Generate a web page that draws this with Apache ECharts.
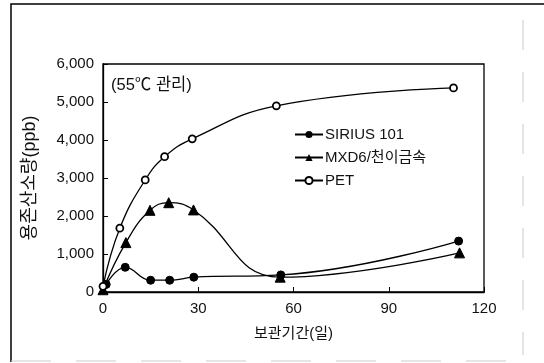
<!DOCTYPE html>
<html><head><meta charset="utf-8">
<script src="https://cdn.jsdelivr.net/npm/echarts@6/dist/echarts.min.js"></script>
<style>html,body{margin:0;padding:0;background:#fff}#c{width:544px;height:363px}</style>
</head><body><div id="c"></div>
<script>
const xTicks = [0, 30, 60, 90, 120];
const yTicks = [0, 1000, 2000, 3000, 4000, 5000, 6000];
const seriesNames = ['SIRIUS 101', 'MXD6/천이금속', 'PET'];
const siriusDays = [1, 7, 15, 21, 28.6, 56, 112];
const siriusVals = [200, 650, 310, 310, 390, 450, 1340];
const mxdDays = [0, 7.2, 14.8, 20.7, 28.5, 55.8, 112.3];
const mxdVals = [60, 1300, 2150, 2350, 2160, 390, 1030];
const petDays = [0, 5.3, 13.3, 19.4, 28.1, 54.6, 110.4];
const petVals = [150, 1680, 2950, 3560, 4030, 4900, 5370];
const titleY = '용존산소량(ppb)';
const titleX = '보관기간(일)';
const note = '(55℃ 관리)';

const font = '"Liberation Sans", "Noto Sans CJK KR", sans-serif';
const pairs = (xs, ys) => xs.map((x, i) => [x, ys[i]]);
const chart = echarts.init(document.getElementById('c'), null, {renderer: 'canvas'});
const common = {type: 'line', smooth: 0.45, lineStyle: {color: '#000', width: 1.3}, itemStyle: {color: '#000', borderColor: '#000'}, z: 3};
chart.setOption({
  animation: false,
  backgroundColor: '#fff',
  grid: {left: 103, top: 64, width: 381, height: 228, show: true, borderColor: '#000', borderWidth: 1.3, backgroundColor: 'transparent'},
  xAxis: {type: 'value', min: xTicks[0], max: xTicks[xTicks.length - 1], interval: 30,
    axisLine: {lineStyle: {color: '#000', width: 1.3}},
    axisTick: {inside: true, length: 5, lineStyle: {color: '#000'}},
    splitLine: {show: false},
    axisLabel: {color: '#111', fontSize: 15, fontFamily: font, margin: 9},
    name: titleX, nameLocation: 'middle', nameGap: 34,
    nameTextStyle: {color: '#111', fontSize: 15, fontFamily: font}},
  yAxis: {type: 'value', min: yTicks[0], max: yTicks[yTicks.length - 1], interval: 1000,
    axisLine: {show: true, lineStyle: {color: '#000', width: 1.3}},
    axisTick: {show: true, inside: true, length: 5, lineStyle: {color: '#000'}},
    splitLine: {show: false},
    axisLabel: {color: '#111', fontSize: 15, fontFamily: font, margin: 9,
      formatter: v => v.toLocaleString('en-US')},
    name: titleY, nameLocation: 'middle', nameGap: 64, nameRotate: 90,
    nameTextStyle: {color: '#111', fontSize: 18, fontFamily: font}},
  legend: {orient: 'vertical', left: 289, top: 122, itemWidth: 28, itemHeight: 9, itemGap: 8,
    textStyle: {color: '#111', fontSize: 15, fontFamily: font, padding: [0, 0, 0, -3]},
    data: seriesNames},
  graphic: [
    {type: 'text', left: 111, top: 77, style: {text: note, fontSize: 16.5, fontFamily: font, fill: '#111'}},
    {type: 'polyline', shape: {points: [[11, 362], [11, 4], [544, 4]]}, style: {stroke: '#000', lineWidth: 1.5, fill: null}},
    {type: 'line', shape: {x1: 523, y1: 20, x2: 523, y2: 355}, style: {stroke: '#ccc', lineWidth: 1, lineDash: [30, 22]}},
    {type: 'line', shape: {x1: 11, y1: 361, x2: 523, y2: 361}, style: {stroke: '#ccc', lineWidth: 1, lineDash: [40, 25]}}
  ],
  series: [
    Object.assign({}, common, {name: seriesNames[0], data: pairs(siriusDays, siriusVals), symbol: 'circle', symbolSize: 8}),
    Object.assign({}, common, {name: seriesNames[1], data: pairs(mxdDays, mxdVals), symbol: 'triangle', symbolSize: 10}),
    Object.assign({}, common, {name: seriesNames[2], data: pairs(petDays, petVals), symbol: 'circle', symbolSize: 7,
      itemStyle: {color: '#fff', borderColor: '#000', borderWidth: 1.8}})
  ]
});
</script></body></html>
